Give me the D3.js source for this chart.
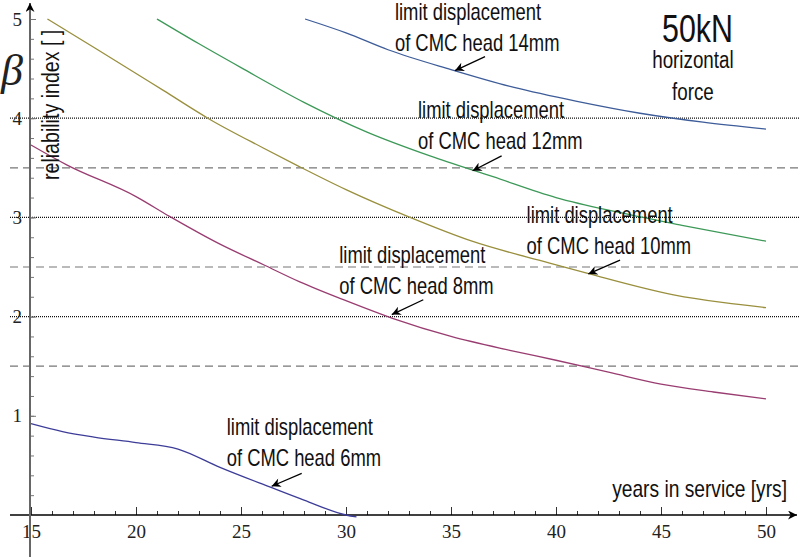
<!DOCTYPE html>
<html lang="en">
<head>
<meta charset="UTF-8">
<title>reliability index vs years in service</title>
<script src="https://d3js.org/d3.v7.min.js"></script>
<style>
  body { margin: 0; background: #fff; }
  .lbl { font-family: "Liberation Sans", Arial, sans-serif; fill: #111; }
  .tick text { font-family: "Liberation Serif", "DejaVu Serif", serif; font-size: 19px; fill: #222; }
</style>
</head>
<body>
<div id="chart"></div>
<script>
// years in service [yrs] vs reliability index beta, one series per limit displacement
const years6  = [15, 16.5, 18, 20, 22, 24, 26.4, 28, 30, 30.5];
const beta6   = [0.92, 0.84, 0.785, 0.73, 0.665, 0.48, 0.28, 0.15, 0.0, -0.02];
const years8  = [15, 16.7, 20, 21.6, 24, 26.1, 27.8, 30, 32.25, 35, 37.8, 40, 42.5, 45, 47.5, 50];
const beta8   = [3.73, 3.53, 3.21, 3.01, 2.73, 2.52, 2.35, 2.16, 1.98, 1.80, 1.66, 1.56, 1.44, 1.32, 1.24, 1.17];
const years10 = [15.78, 18.1, 21.3, 23.5, 26.06, 27.8, 30, 33.05, 36, 39.7, 41.6, 45.6, 48, 50];
const beta10  = [5.0, 4.70, 4.28, 3.99, 3.70, 3.51, 3.28, 3.0, 2.76, 2.54, 2.43, 2.22, 2.14, 2.09];
const years12 = [21, 23, 25, 28, 31, 34, 37, 40, 43, 46, 50];
const beta12  = [5.0, 4.75, 4.51, 4.16, 3.86, 3.62, 3.41, 3.20, 3.05, 2.92, 2.76];
const years14 = [28.05, 30, 32, 35, 38, 41, 44, 47, 50];
const beta14  = [5.0, 4.86, 4.69, 4.49, 4.31, 4.17, 4.05, 3.96, 3.89];

const seriesNames  = ["6mm", "8mm", "10mm", "12mm", "14mm"];
const seriesColors = ["#3d3d99", "#993d71", "#998f3d", "#3d9958", "#3d5c99"];

const xMajorTicks = [15, 20, 25, 30, 35, 40, 45, 50];
const yMajorTicks = [1, 2, 3, 4, 5];
const dottedLevels = [2, 3, 4];
const dashedLevels = [1.5, 2.5, 3.5];

// annotation text (data coords of first line start) and arrow tail -> head
const noteSizes = ["14mm", "12mm", "10mm", "8mm", "6mm"];
const noteText  = [[32.33, 4.985], [33.43, 4.00], [38.6, 2.94], [29.68, 2.54], [24.32, 0.81]];
const noteTail  = [[36.62, 4.62], [37.41, 3.62], [43.05, 2.57], [33.68, 2.17], [27.89, 0.42]];
const noteHead  = [[35.19, 4.48], [36.03, 3.47], [41.54, 2.43], [32.18, 2.02], [26.46, 0.29]];

const W = 800, H = 557;
const svg = d3.select("#chart").append("svg")
  .attr("width", W).attr("height", H);

const x = d3.scaleLinear().domain([15, 50]).range([31, 766]);
const y = d3.scaleLinear().domain([0, 5]).range([515, 19]);

// narrow sans text: Liberation Sans squeezed horizontally
function narrow(px, py, size, str, anchor, extra) {
  return svg.append("text").attr("class", "lbl")
    .attr("font-size", size)
    .attr("text-anchor", anchor || "start")
    .attr("transform", `translate(${px},${py}) ${extra || ""} scale(0.8,1)`)
    .text(str);
}

const defs = svg.append("defs");
defs.append("marker")
  .attr("id", "ah").attr("viewBox", "0 0 10 10")
  .attr("refX", 10).attr("refY", 5)
  .attr("markerWidth", 11).attr("markerHeight", 9)
  .attr("markerUnits", "userSpaceOnUse")
  .attr("orient", "auto")
  .append("path").attr("d", "M0,0 L10,5 L0,10 L3,5 Z").attr("fill", "#000");

// grid lines
svg.selectAll(".dot-grid").data(dottedLevels).enter().append("line")
  .attr("x1", 10).attr("x2", W)
  .attr("y1", d => y(d)).attr("y2", d => y(d))
  .attr("stroke", "#111").attr("stroke-width", 1.3)
  .attr("stroke-dasharray", "1,1");

svg.selectAll(".dash-grid").data(dashedLevels).enter().append("line")
  .attr("x1", 10).attr("x2", W)
  .attr("y1", d => y(d)).attr("y2", d => y(d))
  .attr("stroke", "#777").attr("stroke-width", 1.2)
  .attr("stroke-dasharray", "8,5");

// x axis: minor then major ticks
const gx = svg.append("g").attr("transform", `translate(0,${y(0)})`);
gx.append("g")
  .call(d3.axisBottom(x).tickValues(d3.range(16, 51)).tickSizeInner(-4).tickSizeOuter(0).tickFormat(""))
  .call(g => g.select(".domain").remove())
  .call(g => g.selectAll("line").attr("stroke", "#333"));
gx.append("g")
  .call(d3.axisBottom(x).tickValues(xMajorTicks).tickSizeInner(-8).tickSizeOuter(0).tickPadding(10).tickFormat(d3.format("d")))
  .call(g => g.select(".domain").remove())
  .call(g => g.selectAll("line").attr("stroke", "#333"))
  .call(g => g.selectAll("text").attr("font-size", null));
gx.append("line")
  .attr("x1", 10).attr("x2", 797).attr("stroke", "#000").attr("stroke-width", 1.3)
  .attr("marker-end", "url(#ah)");

// y axis
const gy = svg.append("g").attr("transform", `translate(${x(15) - 1},0)`);
gy.append("g")
  .call(d3.axisLeft(y).tickValues(d3.range(0.2, 5, 0.2)).tickSizeInner(-4).tickSizeOuter(0).tickFormat(""))
  .call(g => g.select(".domain").remove())
  .call(g => g.selectAll("line").attr("stroke", "#777"));
gy.append("g")
  .call(d3.axisLeft(y).tickValues(yMajorTicks).tickSizeInner(-6).tickSizeOuter(0).tickPadding(8).tickFormat(d3.format("d")))
  .call(g => g.select(".domain").remove())
  .call(g => g.selectAll("line").attr("stroke", "#777"))
  .call(g => g.selectAll("text").attr("font-size", null));
gy.append("line")
  .attr("y1", H).attr("y2", 3).attr("stroke", "#666").attr("stroke-width", 2)
  .attr("marker-end", "url(#ah)");

// curves
const allYears = [years6, years8, years10, years12, years14];
const allBeta  = [beta6, beta8, beta10, beta12, beta14];
const line = d3.line().curve(d3.curveMonotoneX).x(d => x(d[0])).y(d => y(d[1]));
seriesNames.forEach((name, i) => {
  const pts = allYears[i].map((yr, j) => [yr, allBeta[i][j]]);
  svg.append("path").datum(pts)
    .attr("fill", "none")
    .attr("stroke", seriesColors[i])
    .attr("stroke-width", 1.3)
    .attr("d", line);
});

// annotations
noteSizes.forEach((sz, i) => {
  const tx = x(noteText[i][0]), ty = y(noteText[i][1]);
  narrow(tx, ty, 23, "limit displacement");
  narrow(tx, ty + 31, 23, "of CMC head " + sz);
  svg.append("line")
    .attr("x1", x(noteTail[i][0])).attr("y1", y(noteTail[i][1]))
    .attr("x2", x(noteHead[i][0])).attr("y2", y(noteHead[i][1]))
    .attr("stroke", "#000").attr("stroke-width", 1.3)
    .attr("marker-end", "url(#ah)");
});

// titles
narrow(x(45.05), y(4.77), 38, "50kN");
narrow(x(46.52), y(4.51), 23.5, "horizontal", "middle");
narrow(x(46.52), y(4.18), 23.5, "force", "middle");

narrow(787, 497, 24, "years in service [yrs]", "end");
narrow(59, 180, 24.5, "reliability index [ ]", "start", "rotate(-90)");

svg.append("text")
  .attr("font-family", "Liberation Serif, DejaVu Serif, serif")
  .attr("font-style", "italic").attr("font-size", 44).attr("fill", "#222")
  .attr("x", 1).attr("y", 85).text("β");
</script>
</body>
</html>
